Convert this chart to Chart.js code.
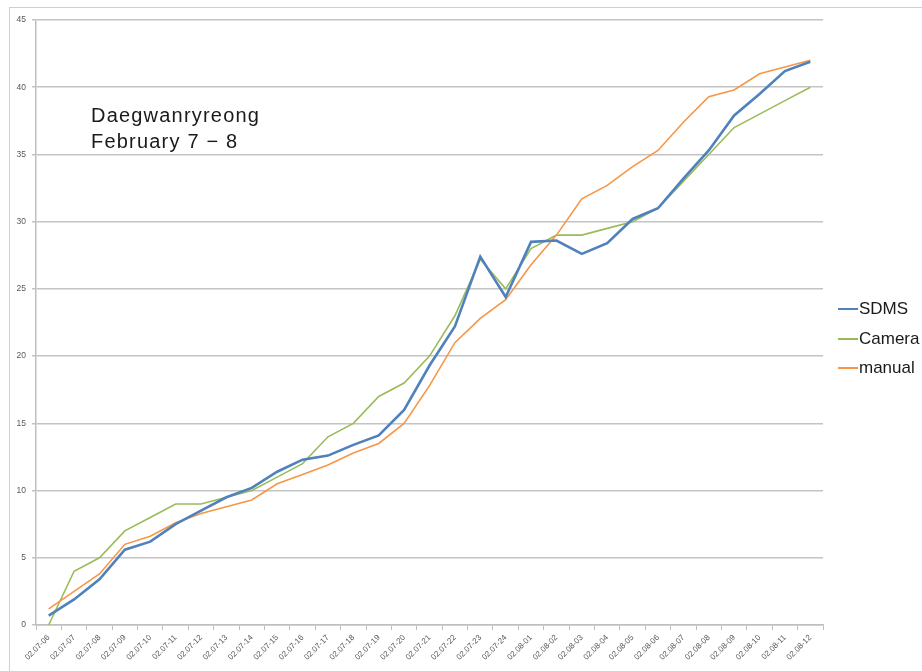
<!DOCTYPE html>
<html>
<head>
<meta charset="utf-8">
<script src="https://cdn.jsdelivr.net/npm/chart.js@4.4.0/dist/chart.umd.min.js"></script>
<style>
  html, body { margin:0; padding:0; background:#fff; overflow:hidden; }
  #wrap { position:relative; width:922px; height:671px; overflow:hidden; }
  #frame { position:absolute; left:9px; top:7px; width:913px; height:664px; border-left:1px solid #d0d0d0; border-top:1px solid #d0d0d0; box-sizing:border-box; pointer-events:none; }
  canvas { position:absolute; left:0; top:0; }
  .note { position:absolute; left:91px; font-family:"Liberation Sans", Arial, sans-serif; font-size:20px; letter-spacing:1.2px; color:#1a1a1a; white-space:nowrap; }
  .leg { position:absolute; left:838px; font-family:"Liberation Sans", Arial, sans-serif; font-size:17px; color:#1a1a1a; white-space:nowrap; display:flex; align-items:center; }
  .leg span.ln { display:inline-block; width:20px; margin-right:1px; }
</style>
</head>
<body>
<div id="wrap">
  <canvas id="c" width="922" height="671"></canvas>
  <div id="frame"></div>
  <div class="note" style="top:104px;">Daegwanryreong</div>
  <div class="note" style="top:130px;">February 7 &minus; 8</div>
  <div class="leg" style="top:299px;"><span class="ln" style="border-top:2.5px solid #4f81bd;"></span>SDMS</div>
  <div class="leg" style="top:329px;"><span class="ln" style="border-top:2px solid #9bbb59;"></span>Camera</div>
  <div class="leg" style="top:358px;"><span class="ln" style="border-top:2px solid #f79646;"></span>manual</div>
</div>
<script>
const categories = [
  "02.07-06","02.07-07","02.07-08","02.07-09","02.07-10","02.07-11","02.07-12","02.07-13",
  "02.07-14","02.07-15","02.07-16","02.07-17","02.07-18","02.07-19","02.07-20","02.07-21",
  "02.07-22","02.07-23","02.07-24","02.08-01","02.08-02","02.08-03","02.08-04","02.08-05",
  "02.08-06","02.08-07","02.08-08","02.08-09","02.08-10","02.08-11","02.08-12"
];
const sdms = [0.7,1.9,3.4,5.6,6.2,7.5,8.5,9.5,10.2,11.4,12.3,12.6,13.4,14.1,16.0,19.3,22.2,27.4,24.4,28.5,28.6,27.6,28.4,30.2,31.0,33.2,35.3,37.9,39.5,41.2,41.9];
const camera = [0,4.0,5.0,7.0,8.0,9.0,9.0,9.5,10.0,11.0,12.0,14.0,15.0,17.0,18.0,20.0,23.0,27.2,25.0,28.0,29.0,29.0,29.5,30.0,31.0,33.0,35.0,37.0,38.0,39.0,40.0];
const manual = [1.2,2.5,3.8,6.0,6.6,7.6,8.3,8.8,9.3,10.5,11.2,11.9,12.8,13.5,15.0,17.8,21.0,22.8,24.2,26.8,29.0,31.7,32.7,34.1,35.3,37.4,39.3,39.8,41.0,41.5,42.0];
const yTicks = [0,5,10,15,20,25,30,35,40,45];

new Chart(document.getElementById('c'), {
  type: 'line',
  data: {
    labels: categories,
    datasets: [
      { label:'SDMS', data:sdms, borderColor:'#4f81bd', borderWidth:2.6, pointRadius:0, tension:0, order:1 },
      { label:'Camera', data:camera, borderColor:'#9bbb59', borderWidth:1.6, pointRadius:0, tension:0, order:3 },
      { label:'manual', data:manual, borderColor:'#f79646', borderWidth:1.6, pointRadius:0, tension:0, order:2 }
    ]
  },
  options: {
    responsive:false,
    animation:false,
    events:[],
    layout:{ padding:{ left:0, right:99, top:20, bottom:0 } },
    plugins:{ legend:{ display:false }, tooltip:{ enabled:false } },
    scales:{
      x:{
        offset:true,
        afterFit(s){ s.height = 46; },
        grid:{ drawOnChartArea:false, drawTicks:true, tickLength:5, color:'#bfbfbf', offset:true },
        border:{ color:'#bfbfbf', width:1.5 },
        ticks:{ autoSkip:false, maxRotation:45, minRotation:45, color:'#595959', padding:3, font:{ family:'"Liberation Sans", Arial, sans-serif', size:8 } }
      },
      y:{
        min:0, max:45,
        afterFit(s){ s.width = 36; },
        afterBuildTicks(s){ s.ticks = yTicks.map(v => ({ value:v })); },
        grid:{ color:'#c4c4c4', lineWidth:1.5, drawTicks:true, tickLength:4 },
        border:{ color:'#bfbfbf', width:1.5 },
        ticks:{ color:'#595959', padding:6, font:{ family:'"Liberation Sans", Arial, sans-serif', size:8.5 } }
      }
    }
  }
});
</script>
</body>
</html>
